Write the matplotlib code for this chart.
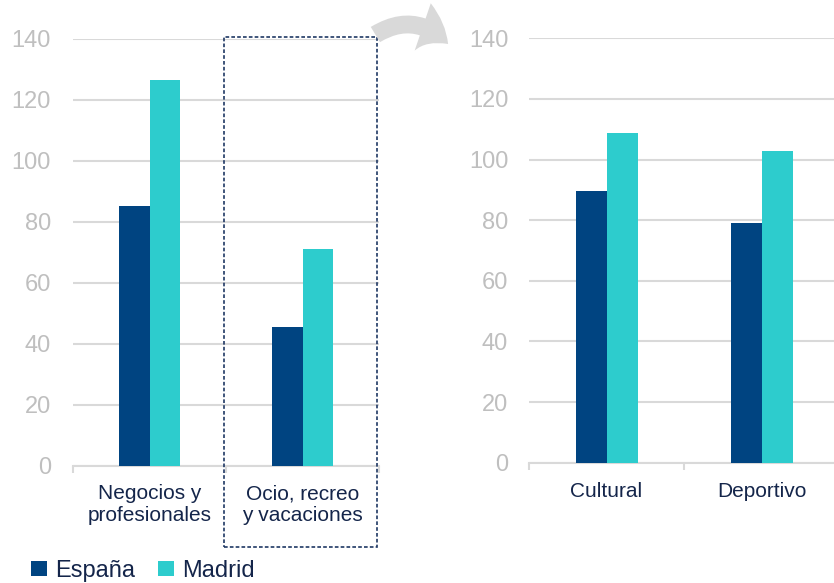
import matplotlib
matplotlib.use("Agg")
import matplotlib.pyplot as plt
import numpy as np
from matplotlib.patches import Rectangle, FancyArrowPatch

plt.rcParams.update({
    "font.family": ["Liberation Sans", "DejaVu Sans"],
})

# data
series = ["España", "Madrid"]
motivos = ["Negocios y\nprofesionales", "Ocio, recreo\ny vacaciones"]
motivos_vals = {"España": [85.0, 45.6], "Madrid": [126.5, 71.1]}
ocio = ["Cultural", "Deportivo"]
ocio_vals = {"España": [89.5, 79.1], "Madrid": [108.7, 102.8]}
yticks = [0, 20, 40, 60, 80, 100, 120, 140]

C_ESP = "#004481"
C_MAD = "#2dcccd"
NAVY = "#14254a"
GRID = "#d9d9d9"
TICK = "#bfbfbf"

W, H = 834, 583
fig = plt.figure(figsize=(W / 100, H / 100), dpi=100)


def panel(rect, cats, vals, pad):
    ax = fig.add_axes(rect)
    x = np.arange(len(cats))
    w = 0.2
    bars = []
    for k, (s, c) in enumerate(zip(series, [C_ESP, C_MAD])):
        bars.append(ax.bar(x + (k - 0.5) * w, vals[s], width=w, color=c,
                           label=s, zorder=3))
    ax.set_xlim(-0.5, len(cats) - 0.5)
    ax.set_ylim(0, 140)
    ax.set_yticks(yticks)
    ax.yaxis.grid(True, color=GRID, lw=1.5, zorder=0)
    ax.tick_params(axis="y", length=0, pad=pad, labelsize=17, labelcolor=TICK)
    ax.set_xticks(x)
    ax.set_xticklabels(cats, fontsize=15, color=NAVY)
    ax.tick_params(axis="x", which="major", length=0, pad=13)
    ax.set_xticks(np.arange(len(cats) + 1) - 0.5, minor=True)
    ax.tick_params(axis="x", which="minor", length=5, width=1.5, color=GRID)
    for sp in ["top", "right", "left"]:
        ax.spines[sp].set_visible(False)
    ax.spines["bottom"].set_color(GRID)
    ax.spines["bottom"].set_linewidth(1.5)
    return ax, bars


axL, bars = panel([73 / W, 1 - 466 / H, 306 / W, 427.5 / H], motivos, motivos_vals, 16)
axR, _ = panel([529 / W, 1 - 462.7 / H, 310 / W, 424.4 / H], ocio, ocio_vals, 15)
axR.tick_params(axis="x", which="major", pad=14)

# dashed box around the "Ocio" category
axL.add_patch(Rectangle((0.49, -26.5), 1.0, 167.0, fill=False, ec="#1f3864",
                        lw=1.2, ls=(0, (2.2, 1.3)), clip_on=False, zorder=5))

# curved grey arrow between the panels
arr = FancyArrowPatch((373 / W, 1 - 36 / H), (450 / W, 1 - 46 / H),
                      transform=fig.transFigure, connectionstyle="arc3,rad=-0.42",
                      arrowstyle="simple,head_length=0.55,head_width=0.9,tail_width=0.32",
                      mutation_scale=40, color="#d9d9d9", lw=0)
fig.add_artist(arr)

fig.legend(handles=bars, labels=series, loc="lower left",
           bbox_to_anchor=(10 / W, -20 / H), ncol=2, frameon=False,
           fontsize=17, labelcolor=NAVY, handlelength=0.65, handleheight=0.65,
           handletextpad=0.35, columnspacing=1.0)

fig.savefig("out.png", dpi=100)
